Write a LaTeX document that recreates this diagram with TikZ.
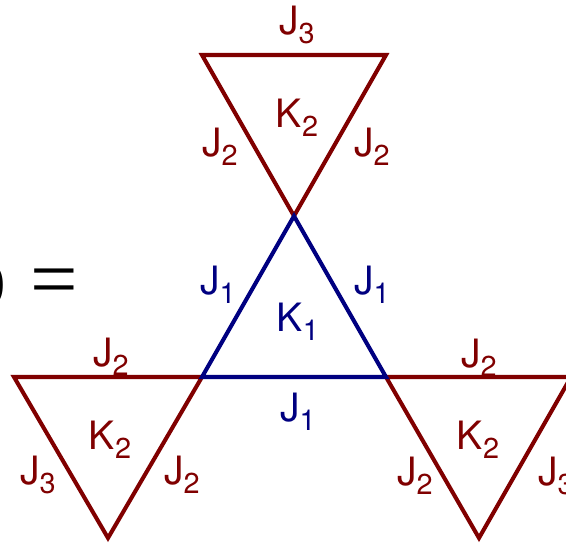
\documentclass[tikz,border=0pt]{standalone}
\usepackage{fontspec}
\setmainfont{TeX Gyre Heros}
\newfontfamily\eqfont{Liberation Serif}
\definecolor{couplingred}{RGB}{128,0,0}
\definecolor{couplingblue}{RGB}{0,0,128}
\newcommand{\cpl}[2]{#1\raisebox{-2.4pt}{\fontsize{8.2}{9}\selectfont #2}}
\tikzset{
    redtri/.style={draw=couplingred, line width=1.15pt, line join=miter},
    bluetri/.style={draw=couplingblue, line width=1.15pt, line join=miter},
    redlbl/.style={text=couplingred, font=\fontsize{11.1}{13}\selectfont, inner sep=0pt, anchor=base},
    bluelbl/.style={text=couplingblue, font=\fontsize{11.1}{13}\selectfont, inner sep=0pt, anchor=base}
}

\begin{document}
\begin{tikzpicture}[x=0.01cm, y=-0.01cm]
    \useasboundingbox (0,0) rectangle (566,543);
    \clip (0,0) rectangle (566,543);

    % Left hand side (cut off)
    \node[inner sep=0pt, anchor=base east, font=\eqfont\fontsize{15.5}{17}\selectfont] (paren) at (6.5,299) {)};
    \node[inner sep=0pt, anchor=base, font=\eqfont\fontsize{24}{26}\selectfont] (equals) at (54.5,308) {=};

    % Corners
    \coordinate (apex) at (294,216);
    \coordinate (bl) at (202,377);
    \coordinate (br) at (386,377);
    \coordinate (topl) at (202,55);
    \coordinate (topr) at (386,55);
    \coordinate (leftl) at (14,377);
    \coordinate (leftb) at (108,538);
    \coordinate (rightr) at (571,377);
    \coordinate (rightb) at (479,538);

    % Outer triangles
    \draw[redtri] (topl) -- (topr) -- (apex) -- cycle;
    \draw[redtri] (leftl) -- (bl) -- (leftb) -- cycle;
    \draw[redtri] (br) -- (rightr) -- (rightb) -- cycle;

    % Central triangle
    \draw[bluetri] (apex) -- (bl) -- (br) -- cycle;

    % Top triangle labels
    \node[redlbl] (topJ3) at (297,35) {\cpl{J}{3}};
    \node[redlbl] (topK2) at (297,128) {\cpl{K}{2}};
    \node[redlbl] (topJ2l) at (220,157) {\cpl{J}{2}};
    \node[redlbl] (topJ2r) at (372,157) {\cpl{J}{2}};

    % Central triangle labels
    \node[bluelbl] (midJ1l) at (218,295) {\cpl{J}{1}};
    \node[bluelbl] (midJ1r) at (372,295) {\cpl{J}{1}};
    \node[bluelbl] (midK1) at (298,332) {\cpl{K}{1}};
    \node[bluelbl] (midJ1b) at (298,422) {\cpl{J}{1}};

    % Left triangle labels
    \node[redlbl] (leftJ2t) at (111,367) {\cpl{J}{2}};
    \node[redlbl] (leftK2) at (110,450) {\cpl{K}{2}};
    \node[redlbl] (leftJ3) at (38,485) {\cpl{J}{3}};
    \node[redlbl] (leftJ2r) at (182,485) {\cpl{J}{2}};

    % Right triangle labels
    \node[redlbl] (rightJ2t) at (479,368) {\cpl{J}{2}};
    \node[redlbl] (rightK2) at (478,450) {\cpl{K}{2}};
    \node[redlbl] (rightJ2l) at (415,486) {\cpl{J}{2}};
    \node[redlbl] (rightJ3) at (556,486) {\cpl{J}{3}};

\end{tikzpicture}
\end{document}
